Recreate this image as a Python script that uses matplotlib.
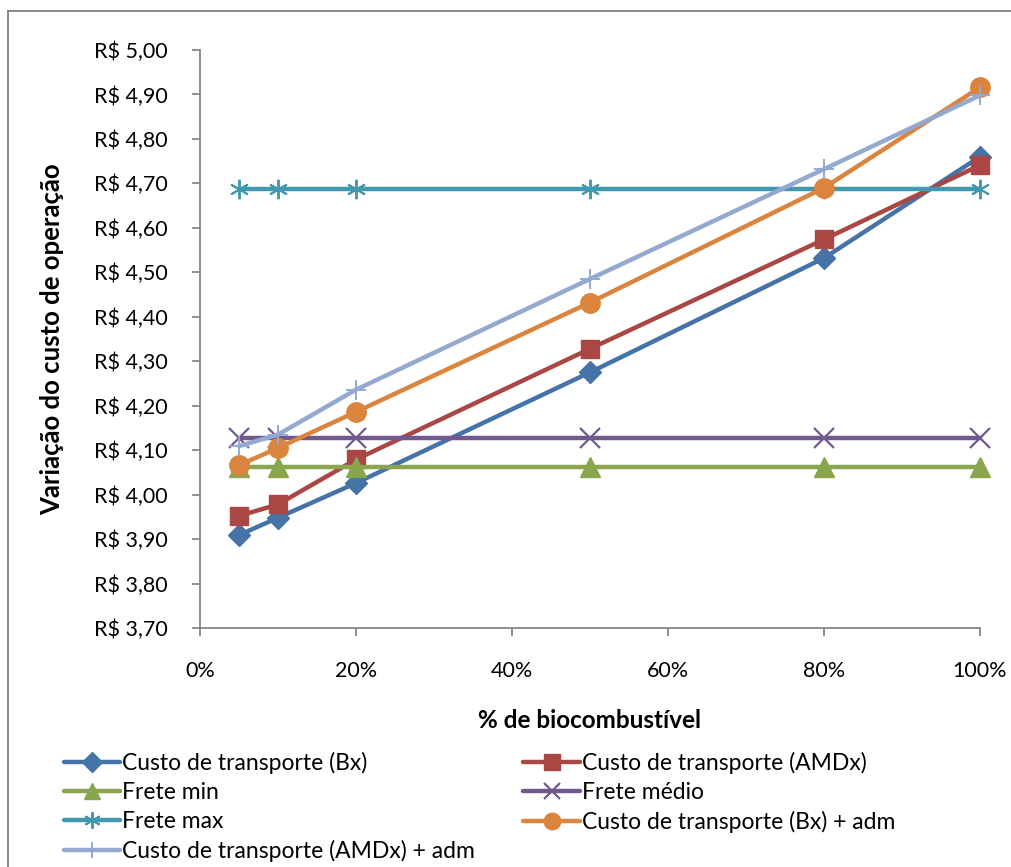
import matplotlib.pyplot as plt
from matplotlib.lines import Line2D
from matplotlib.ticker import FuncFormatter, MultipleLocator

plt.rcParams['font.family'] = ['Lato', 'DejaVu Sans']

# % de biocombustível na mistura
pct = [5, 10, 20, 50, 80, 100]

custo_bx = [3.909, 3.948, 4.026, 4.275, 4.532, 4.760]
custo_amdx = [3.952, 3.978, 4.079, 4.328, 4.574, 4.741]
frete_min = [4.062, 4.062, 4.062, 4.062, 4.062, 4.062]
frete_medio = [4.128, 4.128, 4.128, 4.128, 4.128, 4.128]
frete_max = [4.688, 4.688, 4.688, 4.688, 4.688, 4.688]
custo_bx_adm = [4.066, 4.105, 4.186, 4.432, 4.690, 4.916]
custo_amdx_adm = [4.109, 4.135, 4.236, 4.485, 4.732, 4.898]

labels = [
    'Custo de transporte (Bx)',
    'Custo de transporte (AMDx)',
    'Frete min',
    'Frete médio',
    'Frete max',
    'Custo de transporte (Bx) + adm',
    'Custo de transporte (AMDx) + adm',
]

fig = plt.figure(figsize=(10.12, 8.67), dpi=100)
ax = fig.add_axes([200 / 1012, 1 - 628 / 867, 780 / 1012, 578 / 867])

series = [
    (custo_bx, '#4572A7', 'D', 11.5, {}),
    (custo_amdx, '#AA4643', 's', 13, {}),
    (frete_min, '#89A54E', '^', 14, {}),
    (frete_medio, '#71588F', 'x', 14, {'markeredgewidth': 1.6}),
    (frete_max, '#4198AF', (6, 2, 0), 14, {'markeredgewidth': 1.4}),
    (custo_bx_adm, '#DB843D', 'o', 14, {}),
    (custo_amdx_adm, '#93A9CF', '+', 14, {'markeredgewidth': 1.4}),
]

handles = []
for (vals, color, marker, ms, extra), lab in zip(series, labels):
    ax.plot(pct, vals, color=color, lw=3.2, marker=marker, ms=ms,
            clip_on=False, solid_capstyle='round', **extra)
    handles.append(Line2D([], [], color=color, lw=3.2, marker=marker, ms=ms * 0.85,
                          solid_capstyle='round', **extra))

ax.set_xlim(0, 100)
ax.set_ylim(3.70, 5.00)
ax.xaxis.set_major_locator(MultipleLocator(20))
ax.yaxis.set_major_locator(MultipleLocator(0.10))
ax.xaxis.set_major_formatter(FuncFormatter(lambda v, p: f'{v:.0f}%'))
ax.yaxis.set_major_formatter(
    FuncFormatter(lambda v, p: 'R$ ' + f'{v:.2f}'.replace('.', ',')))

for s in ['top', 'right']:
    ax.spines[s].set_visible(False)
for s in ['left', 'bottom']:
    ax.spines[s].set_color('#868686')
    ax.spines[s].set_linewidth(1.3)
ax.tick_params(axis='both', colors='#868686', width=1.3, length=6,
               labelcolor='black', labelsize=15.5)
ax.tick_params(axis='y', pad=17)
ax.tick_params(axis='x', pad=18)

ax.set_xlabel('% de biocombustível', fontsize=17.5, fontweight='bold', labelpad=20)
ax.set_ylabel('Variação do custo de operação', fontsize=18.5, fontweight='bold',
              labelpad=22)

# legenda em duas colunas abaixo do gráfico
order = [0, 2, 4, 6, 1, 3, 5]
fig.legend([handles[i] for i in order], [labels[i] for i in order],
           loc='upper left', bbox_to_anchor=(64 / 1012, 1 - 752 / 867),
           ncol=2, frameon=False, fontsize=16.5, handlelength=2.45,
           handletextpad=0.1, columnspacing=2.1, labelspacing=0.34,
           borderpad=0, borderaxespad=0)

# moldura do gráfico
fig.add_artist(Line2D([8 / 1012, 8 / 1012], [0, 1 - 11 / 867],
                      transform=fig.transFigure, color='#888888', lw=1.4))
fig.add_artist(Line2D([8 / 1012, 1], [1 - 11 / 867, 1 - 11 / 867],
                      transform=fig.transFigure, color='#888888', lw=1.4))

fig.savefig('out.png', dpi=100)
